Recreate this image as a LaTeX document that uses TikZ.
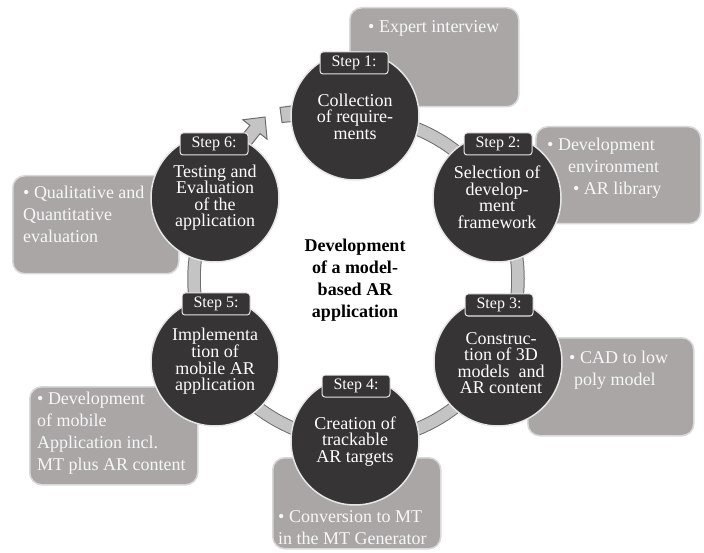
\documentclass[tikz,border=0pt]{standalone}
\usepackage{fontspec}
\setmainfont{Liberation Serif}
\definecolor{darkc}{HTML}{363434}
\definecolor{circrim}{HTML}{E6E6E6}
\definecolor{boxc}{HTML}{AAA6A6}
\definecolor{boxrim}{HTML}{D9D9D9}
\definecolor{ringfill}{HTML}{C4C4C4}
\definecolor{ringedge}{HTML}{6E6E6E}
\definecolor{boxtextc}{HTML}{F7F7F7}
\begin{document}
\begin{tikzpicture}[x=1pt,y=-1pt,
  stepcircle/.style={circle, fill=darkc, draw=circrim, line width=1.5pt, minimum size=128pt, inner sep=0pt},
  steplabel/.style={rectangle, rounded corners=3pt, fill=darkc, draw=circrim, line width=1pt,
    minimum width=68pt, minimum height=22pt, inner sep=0pt, text=white,
    font=\fontsize{16}{16}\selectfont},
  circtext/.style={text=white, align=center, inner sep=0pt, font=\fontsize{18}{16.5}\selectfont},
  infobox/.style={rectangle, rounded corners=12pt, fill=boxc, draw=boxrim, line width=1.5pt, anchor=north west, inner sep=0pt},
  % anchored at the baseline of the last line
  boxtext/.style={text=boxtextc, align=left, inner sep=0pt, anchor=base west, font=\fontsize{18}{22}\selectfont},
  ringband/.style={line width=13.5pt, draw=ringedge},
  ringcore/.style={line width=11.5pt, draw=ringfill},
  ringpiece/.style={fill=ringfill, draw=ringedge, line width=1pt, line join=miter}
]
\useasboundingbox (0,0) rectangle (704,553);

% detail boxes (behind the circles)
\node[infobox, minimum width=169pt, minimum height=99pt] (box1) at (349,7) {};
\node[infobox, minimum width=165pt, minimum height=97pt] (box2) at (535,126) {};
\node[infobox, minimum width=166pt, minimum height=98pt] (box3) at (527,337) {};
\node[infobox, minimum width=168pt, minimum height=91pt] (box4) at (272,457) {};
\node[infobox, minimum width=168pt, minimum height=98pt] (box5) at (29,386) {};
\node[infobox, minimum width=166pt, minimum height=98pt] (box6) at (12,175) {};

% cycle ring from step 1 round to step 6
\coordinate (ringc) at (356,279);
\draw[ringband] plot[domain=-210:100, samples=240] ({356+162*cos(\x)},{279-162*sin(\x)});
\draw[ringcore] plot[domain=-210:100, samples=240] ({356+162*cos(\x)},{279-162*sin(\x)});

% tail of the ring beside step 1
\draw[ringpiece] (280,107.5) -- (298,105) -- (298,121) -- (282,122.5) -- cycle;

% arrow from step 6 towards step 1
\coordinate (arrtip) at (265,117);
\draw[ringpiece] (224.9,156.6) -- (249.9,125.4) -- (242.9,119.8) -- (arrtip)
  -- (267.1,139.2) -- (260.1,133.6) -- (235.1,164.8) -- cycle;

% step circles
\node[stepcircle] (c1) at (355,116) {};
\node[stepcircle] (c2) at (497,198) {};
\node[stepcircle] (c3) at (498,362) {};
\node[stepcircle] (c4) at (355,441) {};
\node[stepcircle] (c5) at (215,362) {};
\node[stepcircle] (c6) at (215,198) {};

% circle texts
\node[circtext] (t1) at (355,116.5) {Collection\\of require-\\ments};
\node[circtext] (t2) at (497,197.5) {Selection of\\develop-\\ment\\framework};
\node[circtext] (t3) at (501,363) {Construc-\\tion of 3D\\models~ and\\AR content};
\node[circtext] (t4) at (355,441.5) {Creation of\\trackable\\AR targets};
\node[circtext] (t5) at (215,361) {Implementa\\tion of\\mobile AR\\application};
\node[circtext] (t6) at (215,197.5) {Testing and\\Evaluation\\of the\\application};

% step labels
\node[steplabel] (s1) at (354,63) {Step 1:};
\node[steplabel] (s2) at (498,144) {Step 2:};
\node[steplabel] (s3) at (499,305) {Step 3:};
\node[steplabel] (s4) at (356,386) {Step 4:};
\node[steplabel] (s5) at (216,304) {Step 5:};
\node[steplabel] (s6) at (214,144) {Step 6:};

% box texts
\node[boxtext] (b1) at (368,33) {• Expert interview};
\node[boxtext] (b2) at (547,194.5) {• Development\\\hspace*{21pt}environment\\\hspace*{26pt}• AR library};
\node[boxtext] (b3) at (569,385.5) {• CAD to low\\\hspace*{5pt}poly model};
\node[boxtext] (b4) at (278,544.5) {• Conversion to MT\\in the MT Generator};
\node[boxtext] (b5) at (37,470.5) {• Development\\of mobile\\Application incl.\\MT plus AR content};
\node[boxtext] (b6) at (23,242.5) {• Qualitative and\\Quantitative\\evaluation};

% centre title
\node[align=center, inner sep=0pt, font=\fontsize{18}{22}\selectfont\bfseries] (title) at (355,280)
  {Development\\of a model-\\based AR\\application};
\end{tikzpicture}
\end{document}
